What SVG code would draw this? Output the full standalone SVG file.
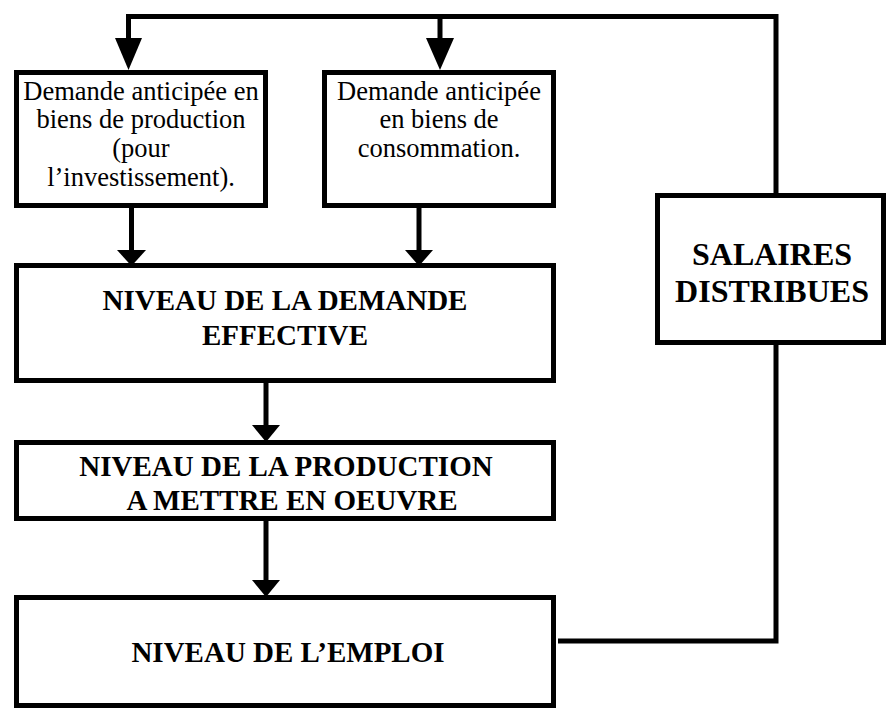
<svg xmlns="http://www.w3.org/2000/svg" width="888" height="709" viewBox="0 0 888 709">
<style>
.box{fill:#fff;stroke:#000;stroke-width:5}
.ln{fill:none;stroke:#000;stroke-width:5}
.hd{fill:#000}
.r{font-family:"Liberation Serif","Times New Roman",serif;font-size:26.5px;text-anchor:middle;fill:#000}
.b{font-family:"Liberation Serif","Times New Roman",serif;font-size:29px;font-weight:bold;text-anchor:middle;fill:#000}
.s{font-family:"Liberation Serif","Times New Roman",serif;font-size:32px;font-weight:bold;text-anchor:middle;fill:#000}
</style>
<rect width="888" height="709" fill="#fff"/>
<g id="connectors">
<path class="ln" d="M558 641 H776 V345"/>
<path class="ln" d="M776 195 V16.5 H128.5 V40"/>
<path class="ln" d="M440 16.5 V40"/>
<path class="ln" d="M131.5 208 V252"/>
<path class="ln" d="M419 208 V252"/>
<path class="ln" d="M266 383 V427"/>
<path class="ln" d="M266 521 V582"/>
<polygon class="hd" points="115,38 142,38 128.5,70"/>
<polygon class="hd" points="426,38 454,38 440,70"/>
<polygon class="hd" points="117,250 146,250 131.5,266"/>
<polygon class="hd" points="405,250 433,250 419,266"/>
<polygon class="hd" points="252,425 280,425 266,442"/>
<polygon class="hd" points="252,580 280,580 266,597"/>
</g>
<g id="box-production-goods">
<rect class="box" x="16.5" y="72.5" width="249" height="133"/>
<text class="r" x="141" y="100">Demande anticipée en</text>
<text class="r" x="141" y="128">biens de production</text>
<text class="r" x="141" y="157">(pour</text>
<text class="r" x="141" y="186">l’investissement).</text>
</g>
<g id="box-consumption-goods">
<rect class="box" x="324.5" y="72.5" width="229" height="133"/>
<text class="r" x="439" y="100">Demande anticipée</text>
<text class="r" x="439" y="128">en biens de</text>
<text class="r" x="439" y="157">consommation.</text>
</g>
<g id="box-demande">
<rect class="box" x="16.5" y="265.5" width="537" height="115"/>
<text class="b" x="285" y="310">NIVEAU DE LA DEMANDE</text>
<text class="b" x="285" y="345">EFFECTIVE</text>
</g>
<g id="box-production">
<rect class="box" x="16.5" y="442.5" width="537" height="76"/>
<text class="b" x="286" y="476">NIVEAU DE LA PRODUCTION</text>
<text class="b" x="292" y="510">A METTRE EN OEUVRE</text>
</g>
<g id="box-emploi">
<rect class="box" x="16.5" y="597.5" width="537" height="108"/>
<text class="b" x="288" y="662">NIVEAU DE L’EMPLOI</text>
</g>
<g id="box-salaires">
<rect class="box" x="657.5" y="195.5" width="226" height="147"/>
<text class="s" x="772" y="265">SALAIRES</text>
<text class="s" x="772" y="302">DISTRIBUES</text>
</g>
</svg>
